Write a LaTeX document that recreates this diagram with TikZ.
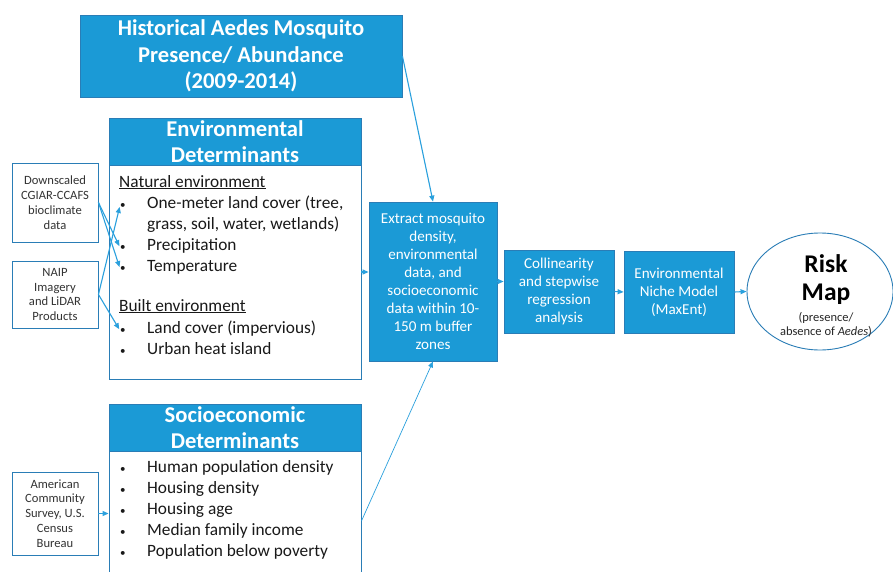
\documentclass[tikz,border=0pt]{standalone}
\usepackage{fontspec}
\setmainfont{Carlito}
\usetikzlibrary{arrows.meta,shapes.geometric}
\definecolor{mblue}{HTML}{1B9AD6}
\definecolor{mborder}{HTML}{2A7DB6}
\definecolor{marrow}{HTML}{2AA0DD}
\begin{document}
\begin{tikzpicture}[x=1pt,y=-1pt,
  bluebox/.style={draw=mborder, fill=mblue, line width=0.8pt, text=white, align=center, inner sep=0pt},
  whitebox/.style={draw=mborder, fill=white, line width=0.9pt, inner sep=0pt},
  srcbox/.style={draw=mborder, fill=white, line width=0.9pt, align=center, inner sep=0pt, font=\fontsize{12.6}{14.8}\selectfont, text=black!80},
  headfont/.style={font=\bfseries\fontsize{22.6}{26.3}\selectfont},
  procfont/.style={font=\fontsize{15.1}{18.1}\selectfont},
  item/.style={anchor=base west, inner sep=0pt, font=\fontsize{17.3}{21}\selectfont, text=black!90},
  bul/.style={anchor=base west, inner sep=0pt, font=\fontsize{11}{21}\selectfont, text=black!90},
  risktxt/.style={inner sep=0pt, font=\bfseries\fontsize{25.5}{30}\selectfont},
  risksub/.style={inner sep=0pt, font=\fontsize{12.5}{14.5}\selectfont, text=black!85},
  arr/.style={draw=marrow, line width=1.1pt, -{Triangle[length=6pt,width=5pt]}},
  thinarr/.style={draw=marrow, line width=0.7pt, -{Triangle[length=6pt,width=5pt]}}
]
\clip (0,0) rectangle (893,572);
\fill[white] (0,0) rectangle (893,572);

% top box
\node[bluebox, headfont, minimum width=322pt, minimum height=82pt] (top) at (241,56)
  {Historical Aedes Mosquito\\Presence/ Abundance\\(2009-2014)};

% environmental determinants
\node[whitebox, minimum width=252pt, minimum height=214pt] (envb) at (235,272) {};
\node[bluebox, headfont, minimum width=252pt, minimum height=47pt] (envh) at (235,141.5)
  {Environmental\\Determinants};

\node[item] (nat) at (119,187) {\underline{Natural environment}};
\node[bul] (b1) at (120,208) {•};
\node[item] (l1) at (147,208) {One-meter land cover (tree,};
\node[item] (l1b) at (147,229) {grass, soil, water, wetlands)};
\node[bul] (b2) at (120,250) {•};
\node[item] (l2) at (147,250) {Precipitation};
\node[bul] (b3) at (120,271) {•};
\node[item] (l3) at (147,271) {Temperature};
\node[item] (blt) at (119,311) {\underline{Built environment}};
\node[bul] (b4) at (120,333) {•};
\node[item] (l4) at (147,333) {Land cover (impervious)};
\node[bul] (b5) at (120,354) {•};
\node[item] (l5) at (147,354) {Urban heat island};

% socioeconomic determinants
\node[whitebox, minimum width=252pt, minimum height=140pt] (socb) at (235,521) {};
\node[bluebox, headfont, minimum width=252pt, minimum height=47pt] (soch) at (235,427.5)
  {Socioeconomic\\Determinants};
\node[bul] (s1b) at (120,472) {•};
\node[item] (s1) at (147,472) {Human population density};
\node[bul] (s2b) at (120,493) {•};
\node[item] (s2) at (147,493) {Housing density};
\node[bul] (s3b) at (120,514) {•};
\node[item] (s3) at (147,514) {Housing age};
\node[bul] (s4b) at (120,535) {•};
\node[item] (s4) at (147,535) {Median family income};
\node[bul] (s5b) at (120,556) {•};
\node[item] (s5) at (147,556) {Population below poverty};

% source boxes
\node[srcbox, minimum width=86pt, minimum height=79pt] (dsc) at (55,202.5)
  {Downscaled\\CGIAR-CCAFS\\bioclimate\\data};
\node[srcbox, minimum width=86pt, minimum height=67pt] (naip) at (55,294.5)
  {NAIP\\Imagery\\and LiDAR\\Products};
\node[srcbox, minimum width=86pt, minimum height=83pt] (amer) at (55,513.5)
  {American\\Community\\Survey, U.S.\\Census\\Bureau};

% process boxes
\node[bluebox, procfont, minimum width=128pt, minimum height=159pt] (ext) at (433,281.5)
  {Extract mosquito\\density,\\environmental\\data, and\\socioeconomic\\data within 10-\\150 m buffer\\zones};
\node[bluebox, procfont, minimum width=110pt, minimum height=83pt] (col) at (559,291.5)
  {Collinearity\\and stepwise\\regression\\analysis};
\node[bluebox, procfont, minimum width=110pt, minimum height=82pt] (niche) at (679,292)
  {Environmental\\Niche Model\\(MaxEnt)};
\node[ellipse, draw=mborder, line width=0.9pt, fill=white, minimum width=146pt, minimum height=117pt, inner sep=0pt] (risk) at (820,291.5) {};
\node[risktxt] (rk1) at (826,264) {Risk};
\node[risktxt] (rk2) at (826,294) {Map};
\node[risksub] (rk3) at (826,318) {(presence/};
\node[risksub] (rk4) at (826,332) {absence of \textit{Aedes})};

% connectors
\draw[arr, shorten >=1.5pt] (dsc.east) -- (b2.west);
\draw[arr, shorten >=1.5pt] (dsc.east) -- (b3.west);
\draw[arr, shorten >=1.5pt] (naip.east) -- (b1.west);
\draw[arr, shorten >=1.5pt] (naip.east) -- (b4.west);
\draw[arr] (amer.east) -- (amer.east -| socb.west);
\draw[arr] (top.east) -- (ext.north);
\draw[arr] (envb.east) -- (envb.east -| ext.west);
\draw[thinarr] (socb.east) -- (ext.south);
\draw[arr] (ext.east) -- (ext.east -| col.west);
\draw[arr] (col.east) -- (niche.west);
\draw[arr] (niche.east) -- (risk.west);
\end{tikzpicture}
\end{document}
